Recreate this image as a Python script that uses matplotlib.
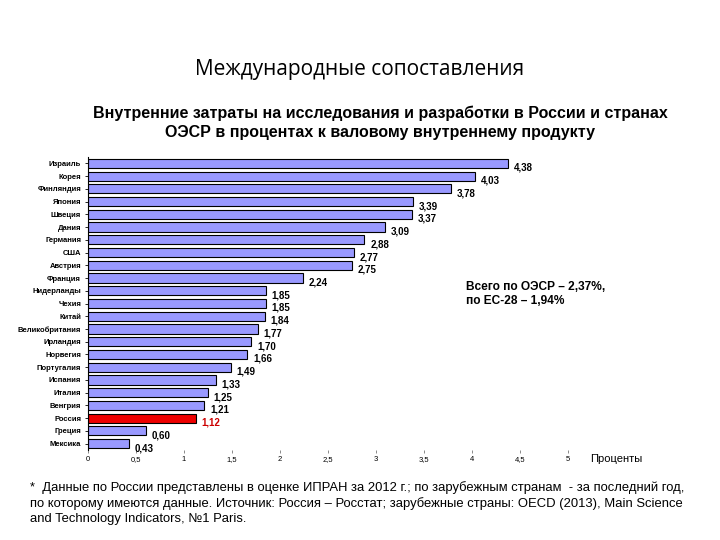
import matplotlib.pyplot as plt
import numpy as np

plt.rcParams['font.family'] = ['Liberation Sans', 'DejaVu Sans']

countries = ['Израиль', 'Корея', 'Финляндия', 'Япония', 'Швеция', 'Дания', 'Германия',
             'США', 'Австрия', 'Франция', 'Нидерланды', 'Чехия', 'Китай', 'Великобритания',
             'Ирландия', 'Норвегия', 'Португалия', 'Испания', 'Италия', 'Венгрия',
             'Россия', 'Греция', 'Мексика']
values = [4.38, 4.03, 3.78, 3.39, 3.37, 3.09, 2.88, 2.77, 2.75, 2.24, 1.85, 1.85, 1.84,
          1.77, 1.70, 1.66, 1.49, 1.33, 1.25, 1.21, 1.12, 0.60, 0.43]
xticks = [0, 0.5, 1, 1.5, 2, 2.5, 3, 3.5, 4, 4.5, 5]
highlight = 'Россия'

fig = plt.figure(figsize=(7.2, 5.4), dpi=100)
ax = fig.add_axes([88 / 720, 1 - 450 / 540, 480 / 720, 293 / 540])

y = np.arange(len(countries))
colors = ['#ee0000' if c == highlight else '#9999ff' for c in countries]
ax.barh(y, values, height=0.72, color=colors, edgecolor='black', linewidth=0.8)
ax.set_ylim(len(countries) - 0.5, -0.5)
ax.set_xlim(0, 5)

# value labels, a bit below the bar centre as in the original
for yi, v, c in zip(y, values, countries):
    col = '#cc0000' if c == highlight else 'black'
    ax.text(v + 0.06, yi + 0.35, f"{v:.2f}".replace('.', ','), fontsize=7,
            fontweight='bold', color=col, va='center', ha='left')

ax.set_yticks(y)
ax.set_yticklabels(countries, fontsize=5.5, fontweight='bold')
ax.set_xticks(xticks)
ax.set_xticklabels([f"{t:g}".replace('.', ',') for t in xticks], fontsize=5.5)
ax.tick_params(axis='y', length=2, width=0.6, pad=3)
ax.tick_params(axis='x', length=2, width=0.6, pad=2, color='#777777')
for s in ['top', 'right', 'bottom']:
    ax.spines[s].set_visible(False)
ax.spines['left'].set_linewidth(0.8)

fig.text(590 / 720, 1 - 459 / 540, 'Проценты', fontsize=8, va='center', ha='left')

fig.text(0.5, 1 - 70 / 540, 'Международные сопоставления', fontsize=15,
         ha='center', va='center', family=['Open Sans', 'DejaVu Sans'])
fig.text(380 / 720, 1 - 123 / 540,
         'Внутренние затраты на исследования и разработки в России и странах\n'
         'ОЭСР в процентах к валовому внутреннему продукту',
         fontsize=11.5, fontweight='bold', ha='center', va='center', linespacing=1.3)

fig.text(466 / 720, 1 - 294 / 540, 'Всего по ОЭСР – 2,37%,\nпо ЕС-28 – 1,94%',
         fontsize=8.6, fontweight='bold', ha='left', va='center', linespacing=1.15)

fig.text(30 / 720, 1 - 503 / 540,
         '*  Данные по России представлены в оценке ИПРАН за 2012 г.; по зарубежным странам  - за последний год,\n'
         'по которому имеются данные. Источник: Россия – Росстат; зарубежные страны: OECD (2013), Main Science\n'
         'and Technology Indicators, №1 Paris.',
         fontsize=9.4, ha='left', va='center', linespacing=1.35,
         family=['Liberation Sans Narrow', 'Liberation Sans', 'DejaVu Sans'])

fig.savefig('out.png', dpi=100)
